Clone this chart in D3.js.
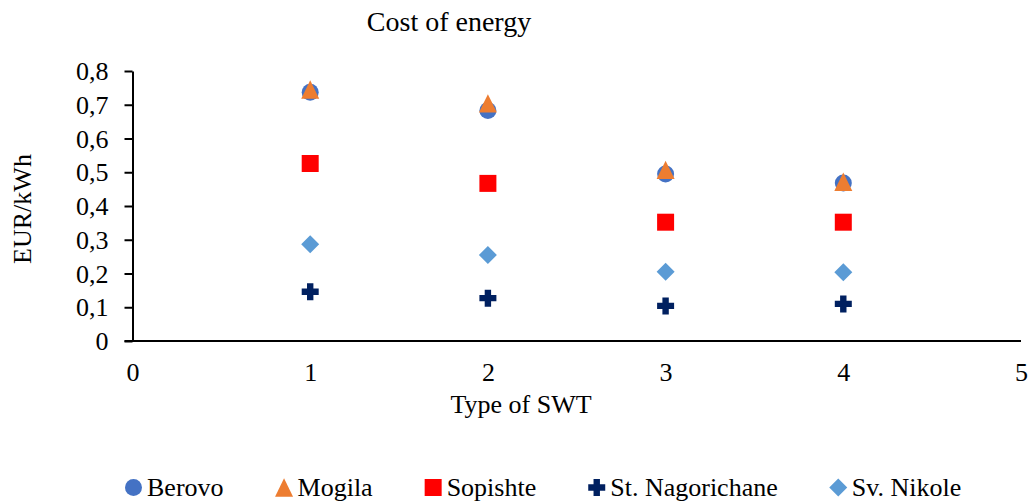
<!DOCTYPE html>
<html>
<head>
<meta charset="utf-8">
<script src="https://cdn.jsdelivr.net/npm/d3@7"></script>
<style>
  html, body { margin: 0; padding: 0; background: #fff; }
  svg, svg text { font-family: "Times New Roman", "Liberation Serif", Tinos, "DejaVu Serif", serif; }
  svg { display: block; }
</style>
</head>
<body>
<svg id="chart" width="1028" height="502"></svg>
<script>
// Levelized cost of energy per small wind turbine type and site
const swtTypes = [1, 2, 3, 4];
const berovo = [0.737, 0.683, 0.495, 0.468];
const mogila = [0.745, 0.704, 0.507, 0.472];
const sopishte = [0.526, 0.467, 0.352, 0.352];
const stNagorichane = [0.146, 0.127, 0.104, 0.110];
const svNikole = [0.287, 0.255, 0.205, 0.204];
const xTicks = [0, 1, 2, 3, 4, 5];
const yTicks = [0, 0.1, 0.2, 0.3, 0.4, 0.5, 0.6, 0.7, 0.8];

const series = [
  { name: "Berovo", values: berovo, color: "#4472C4", shape: "circle" },
  { name: "Mogila", values: mogila, color: "#ED7D31", shape: "triangle" },
  { name: "Sopishte", values: sopishte, color: "#FF0000", shape: "square" },
  { name: "St. Nagorichane", values: stNagorichane, color: "#002060", shape: "cross" },
  { name: "Sv. Nikole", values: svNikole, color: "#5B9BD5", shape: "diamond" }
];

const serif = "'Times New Roman', 'Liberation Serif', Tinos, 'DejaVu Serif', serif";
const svg = d3.select("#chart");
const plotLeft = 132.5, plotRight = 1021, plotTop = 71, plotBottom = 341;

const x = d3.scaleLinear().domain([0, 5]).range([plotLeft, plotRight]);
const y = d3.scaleLinear().domain([0, 0.8]).range([plotBottom, plotTop]);

const fmt = v => (v === 0 ? "0" : d3.format(".1f")(v).replace(".", ","));

// Marker path generators centred on (0,0)
function markerPath(shape) {
  const p = d3.path();
  if (shape === "circle") {
    p.arc(0, 0, 8.5, 0, 2 * Math.PI);
  } else if (shape === "triangle") {
    p.moveTo(0, -9.2); p.lineTo(9, 9.2); p.lineTo(-9, 9.2); p.closePath();
  } else if (shape === "square") {
    p.rect(-8.5, -8.5, 17, 17);
  } else if (shape === "diamond") {
    p.moveTo(0, -9); p.lineTo(9, 0); p.lineTo(0, 9); p.lineTo(-9, 0); p.closePath();
  } else if (shape === "cross") {
    const a = 8.5, b = 3.2;
    p.moveTo(-b, -a); p.lineTo(b, -a); p.lineTo(b, -b); p.lineTo(a, -b);
    p.lineTo(a, b); p.lineTo(b, b); p.lineTo(b, a); p.lineTo(-b, a);
    p.lineTo(-b, b); p.lineTo(-a, b); p.lineTo(-a, -b); p.lineTo(-b, -b);
    p.closePath();
  }
  return p.toString();
}

// Y axis
const yAxis = svg.append("g")
  .attr("transform", `translate(${plotLeft},0)`)
  .call(d3.axisLeft(y).tickValues(yTicks).tickFormat(fmt).tickSize(8).tickSizeOuter(0).tickPadding(16))
  .attr("font-family", serif);
yAxis.select(".domain").attr("stroke", "#000").attr("stroke-width", 2);
yAxis.selectAll(".tick line").attr("stroke", "#000").attr("stroke-width", 2);
yAxis.selectAll(".tick text")
  .attr("font-family", serif)
  .attr("font-size", 26).attr("fill", "#000").attr("dy", "0.33em");

// X axis (no tick marks)
const xAxis = svg.append("g")
  .attr("transform", `translate(0,${plotBottom})`)
  .call(d3.axisBottom(x).tickValues(xTicks).tickFormat(d3.format("d")).tickSize(0).tickSizeOuter(0).tickPadding(22))
  .attr("font-family", serif);
xAxis.select(".domain").attr("stroke", "#000").attr("stroke-width", 2)
  .attr("d", `M${plotLeft - 8},0H${plotRight}`);
xAxis.selectAll(".tick text")
  .attr("font-family", serif)
  .attr("font-size", 26).attr("fill", "#000");

// Points
series.forEach(s => {
  svg.append("g").selectAll("path")
    .data(s.values)
    .join("path")
    .attr("d", markerPath(s.shape))
    .attr("fill", s.color)
    .attr("transform", (d, i) => `translate(${x(swtTypes[i])},${y(d)})`);
});

// Title and axis titles
svg.append("text").attr("x", 449).attr("y", 31).attr("text-anchor", "middle")
  .attr("font-family", serif).attr("font-size", 28).attr("fill", "#000").text("Cost of energy");
svg.append("text").attr("x", 521).attr("y", 413).attr("text-anchor", "middle")
  .attr("font-family", serif).attr("font-size", 26).attr("fill", "#000").text("Type of SWT");
svg.append("text").attr("transform", "translate(31,209) rotate(-90)").attr("text-anchor", "middle")
  .attr("font-family", serif).attr("font-size", 26).attr("fill", "#000").text("EUR/kWh");

// Legend: marker, label, then a fixed gap before the next entry
const legend = svg.append("g").attr("transform", "translate(125,496)");
const items = legend.selectAll("g").data(series).join("g");
items.append("path")
  .attr("d", d => markerPath(d.shape))
  .attr("fill", d => d.color)
  .attr("transform", "translate(8.5,-8.5)");
items.append("text").attr("x", 22).attr("y", 0)
  .attr("font-family", serif).attr("font-size", 26).attr("fill", "#000").text(d => d.name);
let cx = 0;
items.each(function() {
  const g = d3.select(this);
  g.attr("transform", `translate(${cx},0)`);
  const w = 22 + g.select("text").node().getComputedTextLength();
  cx += w + 52;
});
</script>
</body>
</html>
